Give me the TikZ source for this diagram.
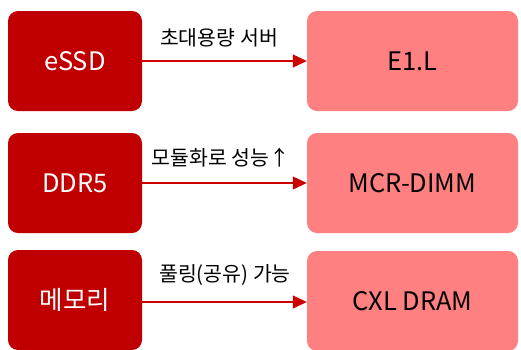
\documentclass[tikz,border=0pt]{standalone}
\usepackage{fontspec}
\setmainfont{Noto Sans CJK KR}
\usetikzlibrary{arrows.meta}
\definecolor{darkred}{HTML}{C00000}
\definecolor{lightred}{HTML}{FF8080}
\definecolor{arrowred}{HTML}{CC0000}
\tikzset{
  srcbox/.style={fill=darkred, rounded corners=10pt, minimum width=134pt, minimum height=100pt, inner sep=0pt, text=white, font=\fontsize{25.5}{30}\selectfont},
  dstbox/.style={fill=lightred, rounded corners=10pt, minimum width=211pt, minimum height=100pt, inner sep=0pt, text=black, font=\fontsize{25.5}{30}\selectfont},
  conn/.style={draw=arrowred, line width=1.2pt, -{Triangle[length=14pt,width=13pt]}},
  lbl/.style={font=\fontsize{20.5}{24}\selectfont, text=black, inner sep=0pt}
}
\begin{document}
\begin{tikzpicture}[x=1pt,y=-1pt]
\useasboundingbox (0,0) rectangle (521,349);
\node[srcbox] (s1) at (75,61) {eSSD};
\node[dstbox] (d1) at (412.5,61) {E1.L};
\node[srcbox] (s2) at (75,183) {DDR5};
\node[dstbox] (d2) at (412.5,183) {MCR-DIMM};
\node[srcbox] (s3) at (75,300) {메모리};
\node[dstbox] (d3) at (412.5,301) {CXL DRAM};
\draw[conn] (s1.east) -- (d1.west);
\draw[conn] (s2.east) -- (d2.west);
\draw[conn] ([yshift=-2pt]s3.east) -- ([yshift=-1pt]d3.west);
\node[lbl] (l1) at (219,38) {초대용량 서버};
\node[lbl] (l2) at (221,158) {모듈화로 성능↑};
\node[lbl] (l3) at (225,275) {풀링(공유) 가능};
\end{tikzpicture}
\end{document}
